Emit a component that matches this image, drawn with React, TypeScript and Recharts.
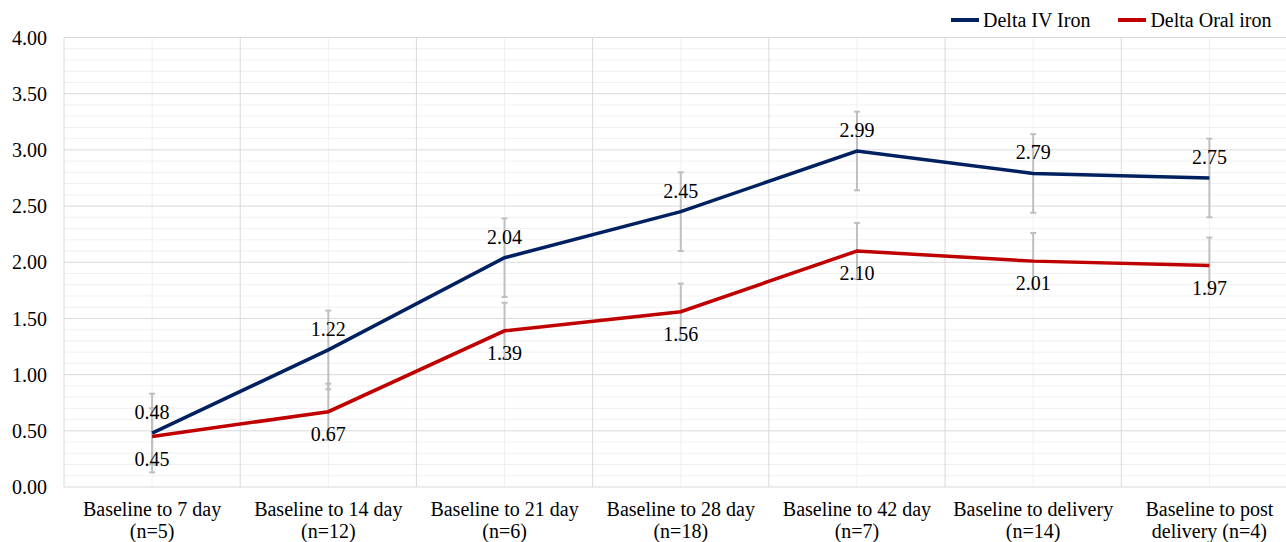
import React from "react";
import {
  LineChart,
  Line,
  XAxis,
  YAxis,
  CartesianGrid,
  ErrorBar,
  LabelList,
  Legend,
} from "recharts";

const categories = [
  "Baseline to 7 day (n=5)",
  "Baseline to 14 day (n=12)",
  "Baseline to 21 day (n=6)",
  "Baseline to 28 day (n=18)",
  "Baseline to 42 day (n=7)",
  "Baseline to delivery (n=14)",
  "Baseline to post delivery (n=4)",
];

const tickLines = [
  ["Baseline to 7 day", "(n=5)"],
  ["Baseline to 14 day", "(n=12)"],
  ["Baseline to 21 day", "(n=6)"],
  ["Baseline to 28 day", "(n=18)"],
  ["Baseline to 42 day", "(n=7)"],
  ["Baseline to delivery", "(n=14)"],
  ["Baseline to post", "delivery (n=4)"],
];

const ivValues = [0.48, 1.22, 2.04, 2.45, 2.99, 2.79, 2.75];
const oralValues = [0.45, 0.67, 1.39, 1.56, 2.1, 2.01, 1.97];
const ivErrors = [0.35, 0.35, 0.35, 0.35, 0.35, 0.35, 0.35];
const oralErrors = [0.25, 0.25, 0.25, 0.25, 0.25, 0.25, 0.25];

const yTicks = [0, 0.5, 1, 1.5, 2, 2.5, 3, 3.5, 4];
const yMinorTicks = [
  0.1, 0.2, 0.3, 0.4, 0.6, 0.7, 0.8, 0.9, 1.1, 1.2, 1.3, 1.4, 1.6, 1.7, 1.8,
  1.9, 2.1, 2.2, 2.3, 2.4, 2.6, 2.7, 2.8, 2.9, 3.1, 3.2, 3.3, 3.4, 3.6, 3.7,
  3.8, 3.9,
];
const boundaryTicks = [0, 1, 2, 3, 4, 5, 6, 7];
const centerTicks = [0.5, 1.5, 2.5, 3.5, 4.5, 5.5, 6.5];

const seriesNames = ["Delta IV Iron", "Delta Oral iron"];
const seriesColors = ["#002060", "#C00000"];

const data = categories.map((c, i) => ({
  category: c,
  idx: i + 0.5,
  iv: ivValues[i],
  oral: oralValues[i],
  ivErr: ivErrors[i],
  oralErr: oralErrors[i],
}));

const FONT = "'Liberation Serif', 'Times New Roman', serif";
const FS = 20;

const XTick = (props: any) => {
  const { x, y, payload } = props;
  const i = categories.indexOf(payload.value);
  const lines = i >= 0 ? tickLines[i] : [String(payload.value)];
  return (
    <text
      x={x}
      y={y}
      textAnchor="middle"
      fill="#000"
      fontFamily={FONT}
      fontSize={FS}
    >
      {lines.map((l, k) => (
        <tspan key={k} x={x} dy={k === 0 ? 29 : 22}>
          {l}
        </tspan>
      ))}
    </text>
  );
};

const renderLegend = () => (
  <div
    style={{
      display: "flex",
      justifyContent: "flex-end",
      alignItems: "center",
      height: 25,
      paddingBottom: 5,
      paddingRight: 26,
      fontFamily: FONT,
      fontSize: FS,
      color: "#000",
    }}
  >
    {seriesNames.map((n, i) => (
      <div
        key={n}
        style={{
          display: "flex",
          alignItems: "center",
          marginLeft: i === 0 ? 0 : 28,
        }}
      >
        <svg width={28} height={6} style={{ marginRight: 4 }}>
          <line
            x1={0}
            y1={3}
            x2={28}
            y2={3}
            stroke={seriesColors[i]}
            strokeWidth={4}
          />
        </svg>
        <span style={{ lineHeight: "25px", whiteSpace: "nowrap" }}>{n}</span>
      </div>
    ))}
  </div>
);

const fmt = (v: any) => Number(v).toFixed(2);

export default function App() {
  return (
    <div
      style={{
        position: "absolute",
        left: 0,
        top: 0,
        width: 1286,
        height: 542,
        overflow: "hidden",
        background: "#fff",
      }}
    >
      <LineChart
        width={1310}
        height={542}
        data={data}
        margin={{ top: 7.5, right: 12.5, bottom: 0, left: 0 }}
      >
        <CartesianGrid
          xAxisId="bound"
          horizontal={false}
          verticalValues={centerTicks}
          stroke="#f0f0f0"
          strokeWidth={1}
        />
        <CartesianGrid
          xAxisId="bound"
          vertical={false}
          horizontalValues={yMinorTicks}
          stroke="#f0f0f0"
          strokeWidth={1}
        />
        <CartesianGrid
          xAxisId="bound"
          vertical={false}
          horizontalValues={yTicks}
          stroke="#d9d9d9"
          strokeWidth={1}
        />
        <CartesianGrid
          xAxisId="bound"
          horizontal={false}
          verticalValues={boundaryTicks}
          stroke="#d9d9d9"
          strokeWidth={1}
        />
        <XAxis
          dataKey="category"
          scale="band"
          interval={0}
          axisLine={false}
          tickLine={false}
          tickSize={0}
          tickMargin={0}
          height={55}
          tick={<XTick />}
        />
        <XAxis
          xAxisId="bound"
          type="number"
          dataKey="idx"
          domain={[0, 7]}
          ticks={boundaryTicks}
          interval={0}
          hide
        />
        <YAxis
          domain={[0, 4]}
          ticks={yTicks}
          interval={0}
          width={64}
          axisLine={false}
          tickLine={false}
          tickSize={0}
          tickMargin={17}
          tickFormatter={fmt}
          tick={{ fill: "#000", fontFamily: FONT, fontSize: FS }}
        />
        <Legend verticalAlign="top" align="right" content={renderLegend} />
        <Line
          dataKey="iv"
          stroke="none"
          dot={false}
          activeDot={false}
          legendType="none"
          isAnimationActive={false}
        >
          <ErrorBar
            dataKey="ivErr"
            width={3}
            stroke="#bfbfbf"
            strokeWidth={2}
            isAnimationActive={false}
          />
        </Line>
        <Line
          dataKey="oral"
          stroke="none"
          dot={false}
          activeDot={false}
          legendType="none"
          isAnimationActive={false}
        >
          <ErrorBar
            dataKey="oralErr"
            width={3}
            stroke="#bfbfbf"
            strokeWidth={2}
            isAnimationActive={false}
          />
        </Line>
        <Line
          dataKey="iv"
          name={seriesNames[0]}
          stroke={seriesColors[0]}
          strokeWidth={3.5}
          dot={false}
          activeDot={false}
          isAnimationActive={false}
        >
          <LabelList
            dataKey="iv"
            position="top"
            offset={14}
            formatter={fmt}
            fill="#000"
            fontFamily={FONT}
            fontSize={FS}
          />
        </Line>
        <Line
          dataKey="oral"
          name={seriesNames[1]}
          stroke={seriesColors[1]}
          strokeWidth={3.5}
          dot={false}
          activeDot={false}
          isAnimationActive={false}
        >
          <LabelList
            dataKey="oral"
            position="bottom"
            offset={15}
            formatter={fmt}
            fill="#000"
            fontFamily={FONT}
            fontSize={FS}
          />
        </Line>
      </LineChart>
    </div>
  );
}
